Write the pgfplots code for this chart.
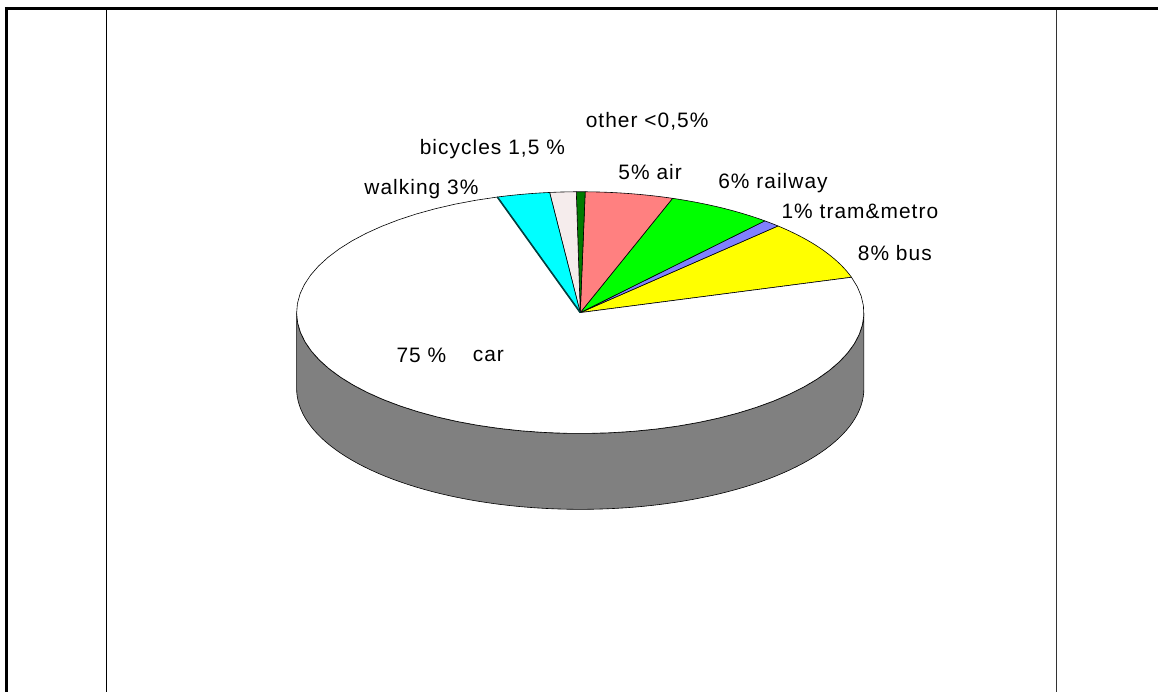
\documentclass[border=0pt]{standalone}
\usepackage{fontspec}
\setmainfont{Liberation Sans}[LetterSpace=5]
\usepackage{pgfplots}
\pgfplotsset{compat=1.18}
\definecolor{cbus}{RGB}{255,255,0}
\definecolor{ctram}{RGB}{128,128,255}
\definecolor{crail}{RGB}{0,255,0}
\definecolor{cair}{RGB}{255,128,128}
\definecolor{cother}{RGB}{0,122,0}
\definecolor{cbike}{RGB}{245,236,236}
\definecolor{cwalk}{RGB}{0,255,255}
\definecolor{cside}{RGB}{128,128,128}
\definecolor{cframe}{RGB}{51,51,51}
\newcommand{\lab}{\fontsize{21}{25}\selectfont}
\begin{document}
\begin{tikzpicture}
\begin{axis}[
  width=1159bp, height=693bp, scale only axis,
  xmin=0, xmax=1159, ymin=0, ymax=693, y dir=reverse,
  hide axis, clip=false, at={(0,0)}, anchor=south west]
\path (axis cs:0,0) rectangle (axis cs:1159,693);
% frame
\draw[line width=3bp] (axis cs:5,8.5) -- (axis cs:1159,8.5);
\draw[line width=3bp] (axis cs:6.5,7) -- (axis cs:6.5,693);
\draw[line width=1bp] (axis cs:107,10) -- (axis cs:107,693);
\draw[line width=1.2bp, cframe] (axis cs:1058,10) -- (axis cs:1058,693);
% side of the pie
\filldraw[fill=cside, draw=black, line width=0.6bp]
  plot[domain=180:360, samples=90, variable=\t] (axis cs:{581+284*cos(\t)},{313-121*sin(\t)})
  -- plot[domain=360:180, samples=90, variable=\t] (axis cs:{581+284*cos(\t)},{389-121*sin(\t)})
  -- cycle;
% slices: percentages
\pgfmathsetmacro\cum{17}
\foreach \v/\col in {8/cbus, 1/ctram, 6/crail, 5/cair, 0.5/cother, 1.5/cbike, 3/cwalk, 75/white}{
  \pgfmathsetmacro\a{\cum}
  \pgfmathsetmacro\b{\cum+3.6*\v}
  \edef\temp{\noexpand\filldraw[fill=\col, draw=black, line width=0.6bp, line join=round]
    (axis cs:581,313) -- plot[domain=\a:\b, samples=60, variable=\noexpand\t]
    (axis cs:{581+284*cos(\noexpand\t)},{313-121*sin(\noexpand\t)}) -- cycle;}
  \temp
  \global\let\cum\b
}
\draw[line width=1.6bp, black!75!cwalk] (axis cs:581,313) -- (axis cs:{581+284*cos(107)},{313-121*sin(107)});
% labels
\node[font=\lab] at (axis cs:648,121) {other <0,5\%};
\node[font=\lab] at (axis cs:493,149) {bicycles 1,5 \%};
\node[font=\lab] at (axis cs:422,189) {walking 3\%};
\node[font=\lab] at (axis cs:651,172) {5\% air};
\node[font=\lab] at (axis cs:774,183) {6\% railway};
\node[font=\lab] at (axis cs:861,212) {1\% tram\&metro};
\node[font=\lab] at (axis cs:896,253) {8\% bus};
\node[font=\lab] at (axis cs:422,356) {75 \%};
\node[font=\lab] at (axis cs:489,356) {car};
\end{axis}
\end{tikzpicture}
\end{document}
